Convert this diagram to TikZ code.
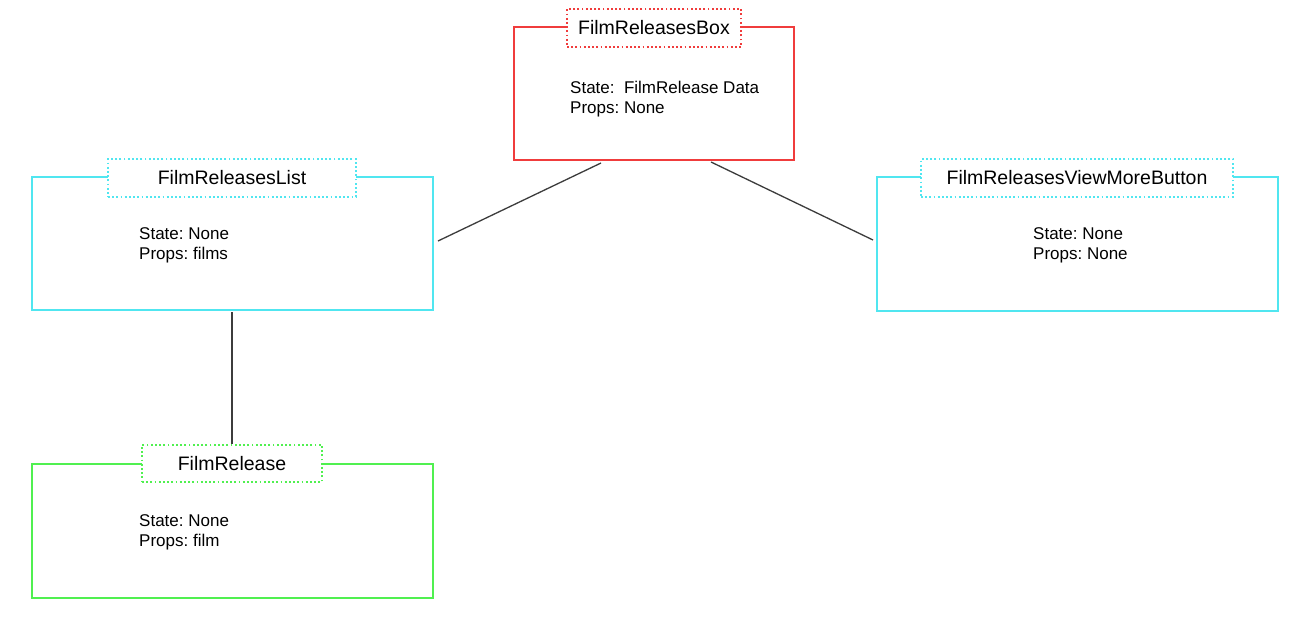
\documentclass[tikz,border=0pt]{standalone}
\usepackage{fontspec}
\setmainfont{Liberation Sans}
\frenchspacing
\definecolor{cred}{RGB}{240,60,60}
\definecolor{ccyan}{RGB}{80,230,240}
\definecolor{cgreen}{RGB}{80,240,80}
\definecolor{cline}{RGB}{60,60,60}
\begin{document}
\begin{tikzpicture}[x=1pt,y=-1pt,
  compbox/.style={draw, line width=1.4pt, fill=white, inner sep=0pt},
  headbox/.style={draw, line width=1.8pt, fill=white, inner sep=0pt,
    dash pattern=on 1.8pt off 2.4pt, font=\fontsize{19.5}{22}\selectfont},
  bodytext/.style={inner sep=0pt, anchor=west, align=left,
    font=\fontsize{17}{20}\selectfont},
  link/.style={draw=cline, line width=1.3pt}]
\useasboundingbox (0,0) rectangle (1309,616);
\fill[white] (0,0) rectangle (1309,616);

% Red box
\node[compbox, draw=cred, minimum width=280pt, minimum height=133pt] (box) at (654,93.5) {};
\node[headbox, draw=cred, minimum width=174pt, minimum height=38pt] (boxh) at (654,28) {FilmReleasesBox};
\node[bodytext] (boxt) at (570,99) {State:\ \ FilmRelease Data\\Props: None};

% List box
\node[compbox, draw=ccyan, minimum width=401pt, minimum height=133pt] (list) at (232.5,243.5) {};
\node[headbox, draw=ccyan, minimum width=248pt, minimum height=38pt] (listh) at (232,178) {FilmReleasesList};
\node[bodytext] (listt) at (139,245) {State: None\\Props: films};

% View more box
\node[compbox, draw=ccyan, minimum width=401pt, minimum height=134pt] (more) at (1077.5,244) {};
\node[headbox, draw=ccyan, minimum width=312pt, minimum height=38pt] (moreh) at (1077,178) {FilmReleasesViewMoreButton};
\node[bodytext] (moret) at (1033,245) {State: None\\Props: None};

% Film release box
\node[compbox, draw=cgreen, minimum width=401pt, minimum height=134pt] (film) at (232.5,531) {};
\node[headbox, draw=cgreen, minimum width=180pt, minimum height=37pt] (filmh) at (232,463.5) {FilmRelease};
\node[bodytext] (filmt) at (139,532) {State: None\\Props: film};

% Connectors
\coordinate (c1) at (601,163);
\coordinate (c2) at (438,241);
\coordinate (c3) at (711,162);
\coordinate (c4) at (873,240);
\coordinate (c5) at (232,312);
\draw[link] (c1) -- (c2);
\draw[link] (c3) -- (c4);
\draw[link] (c5) -- (filmh.north);
\end{tikzpicture}
\end{document}
